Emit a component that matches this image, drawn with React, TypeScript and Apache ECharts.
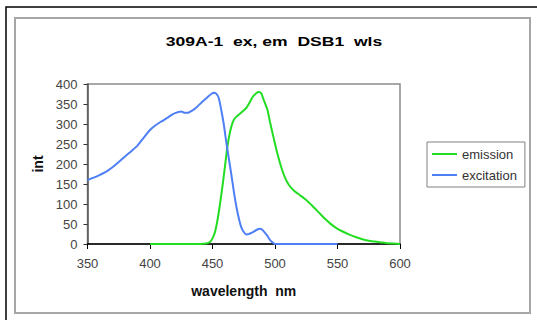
import React, { useEffect, useRef } from "react";
import * as echarts from "echarts";

const titleText = "309A-1  ex, em  DSB1  wls";
const xName = "wavelength  nm";
const yName = "int";
const seriesNames = ["emission", "excitation"];

const emissionWl = [400, 420, 440, 445, 448, 450, 452, 454, 456, 458, 460, 462, 464, 466, 468, 471, 474, 477, 479, 482, 485, 487, 489, 491, 494, 496, 499, 502, 505, 508, 511, 515, 520, 525, 530, 535, 540, 545, 550, 555, 560, 565, 570, 575, 580, 585, 590, 595, 600];
const emissionVal = [0, 0, 0, 1, 5, 14, 30, 60, 100, 145, 195, 245, 280, 303, 315, 323, 331, 340, 350, 367, 377, 380, 377, 360, 335, 305, 264, 225, 192, 166, 148, 134, 122, 110, 95, 79, 63, 49, 38, 30, 23, 17, 12, 8, 6, 4, 2, 1, 0];

const excitationWl = [350, 355, 360, 365, 370, 375, 380, 385, 390, 395, 400, 405, 410, 415, 420, 425, 428, 430, 434, 438, 442, 446, 449, 451, 453, 455, 457, 459, 461, 463, 465, 467, 469, 471, 473, 475, 477, 479, 482, 485, 488, 490, 492, 494, 496, 498, 500, 525, 550];
const excitationVal = [160, 166, 173, 181, 192, 205, 219, 232, 246, 266, 285, 298, 308, 318, 327, 331, 328, 328, 334, 344, 356, 367, 375, 378, 376, 365, 335, 300, 255, 215, 175, 133, 95, 65, 42, 30, 24, 25, 29, 35, 38, 35, 28, 20, 10, 4, 0, 0, 0];

const FONT = "'Liberation Sans', Arial, sans-serif";
const GREEN = "#22dd22";
const BLUE = "#4f7ff5";

export default function App() {
  const ref = useRef<HTMLDivElement>(null);
  useEffect(() => {
    if (!ref.current) return;
    const chart = echarts.init(ref.current, undefined, { renderer: "svg" });
    const emission = emissionWl.map((w, i) => [w, emissionVal[i]]);
    const excitation = excitationWl.map((w, i) => [w, excitationVal[i]]);
    chart.setOption({
      animation: false,
      backgroundColor: "#fff",
      textStyle: { fontFamily: FONT },
      graphic: [
        {
          type: "rect",
          z: -10,
          shape: { x: 6, y: 7, width: 600, height: 400 },
          style: { fill: "none", stroke: "#000", lineWidth: 1.5 },
          silent: true,
        },
        {
          type: "rect",
          z: -10,
          shape: { x: 15, y: 18, width: 515, height: 295 },
          style: { fill: "none", stroke: "#a6a6a6", lineWidth: 2 },
          silent: true,
        },
        {
          type: "text",
          x: 274,
          y: 41,
          scaleX: 1.3,
          style: {
            text: titleText,
            fontSize: 13.5,
            fontWeight: "bold",
            fontFamily: FONT,
            fill: "#000",
            align: "center",
            verticalAlign: "middle",
          },
        },
      ],
      grid: {
        left: 87.5,
        right: 137,
        top: 84,
        bottom: 76,
        show: true,
        borderColor: "#8c8c8c",
        borderWidth: 1.5,
        backgroundColor: "transparent",
      },
      legend: {
        orient: "vertical",
        left: 427,
        top: 142,
        data: seriesNames,
        icon: "rect",
        borderColor: "#808080",
        borderWidth: 1,
        padding: [5, 8, 5, 5],
        itemWidth: 25,
        itemHeight: 2,
        itemGap: 7,
        textStyle: { fontSize: 13, color: "#333", fontFamily: FONT, lineHeight: 14 },
      },
      xAxis: {
        type: "value",
        min: 350,
        max: 600,
        interval: 50,
        name: xName,
        nameLocation: "middle",
        nameGap: 40,
        nameTextStyle: { fontSize: 14, fontWeight: "bold", color: "#111", fontFamily: FONT },
        axisLine: { lineStyle: { color: "#000", width: 1.5 } },
        axisTick: { show: true, length: 5, lineStyle: { color: "#000" } },
        axisLabel: { margin: 13, fontSize: 13, color: "#444", fontFamily: FONT },
        splitLine: { show: false },
      },
      yAxis: {
        type: "value",
        min: 0,
        max: 400,
        interval: 50,
        name: yName,
        nameLocation: "middle",
        nameGap: 40,
        nameTextStyle: { fontSize: 14, fontWeight: "bold", color: "#111", fontFamily: FONT },
        axisLine: { show: true, lineStyle: { color: "#555", width: 1.5 } },
        axisTick: { show: true, length: 4, lineStyle: { color: "#333" } },
        axisLabel: { margin: 10, fontSize: 13, color: "#444", fontFamily: FONT },
        splitLine: { show: false },
      },
      series: [
        {
          name: seriesNames[0],
          type: "line",
          data: emission,
          symbol: "none",
          smooth: 0.2,
          lineStyle: { color: GREEN, width: 2 },
          itemStyle: { color: GREEN },
        },
        {
          name: seriesNames[1],
          type: "line",
          data: excitation,
          symbol: "none",
          smooth: 0.2,
          lineStyle: { color: BLUE, width: 2 },
          itemStyle: { color: BLUE },
        },
      ],
    });
    return () => chart.dispose();
  }, []);
  return (
    <div
      ref={ref}
      style={{ position: "fixed", left: 0, top: 0, width: 537, height: 320 }}
    />
  );
}
